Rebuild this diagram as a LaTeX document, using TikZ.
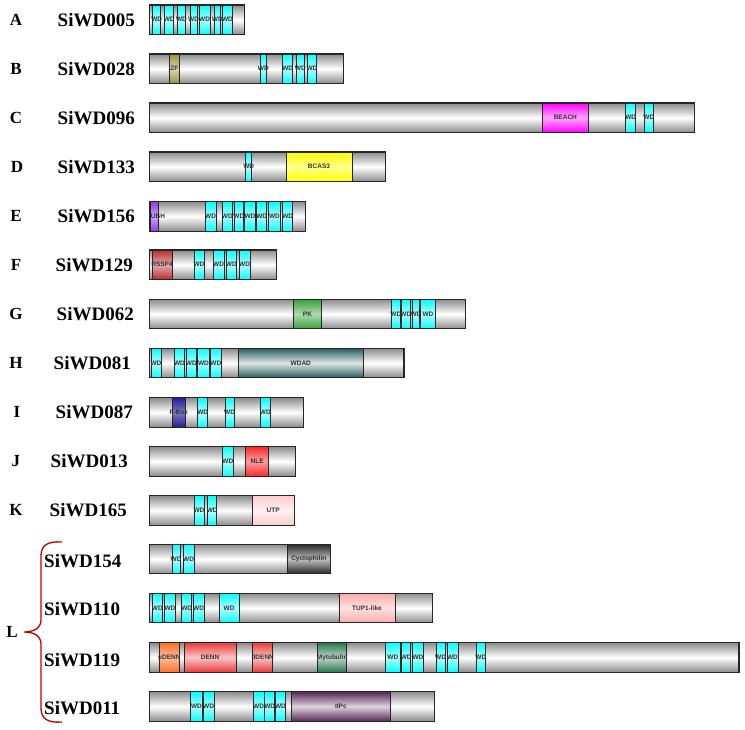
\documentclass[tikz,border=0pt]{standalone}
\usepackage{fontspec}
\setmainfont{Liberation Serif}
\setsansfont{Liberation Sans}
\usepackage{xcolor}

\definecolor{zfolive}{RGB}{150,150,60}
\definecolor{beachpink}{RGB}{255,0,255}
\definecolor{bcasyellow}{RGB}{255,255,0}
\definecolor{ubhpurple}{RGB}{140,60,230}
\definecolor{rsspred}{RGB}{185,45,45}
\definecolor{pkgreen}{RGB}{55,160,55}
\definecolor{wdadteal}{RGB}{40,90,90}
\definecolor{fboxblue}{RGB}{35,30,150}
\definecolor{nlered}{RGB}{250,40,40}
\definecolor{utppink}{RGB}{255,205,205}
\definecolor{cycdark}{RGB}{40,40,40}
\definecolor{tuppink}{RGB}{255,170,170}
\definecolor{udennorange}{RGB}{255,110,40}
\definecolor{dennred}{RGB}{235,60,60}
\definecolor{mytgreen}{RGB}{40,120,75}
\definecolor{iipcpurple}{RGB}{85,40,85}

\tikzset{
  dom/.style 2 args={draw=black!85, line width=0.8pt,
    top color=#1, bottom color=#1, middle color=#2},
  protein/.style={dom={black!45}{white}, line width=1.1pt},
  wdbox/.style={dom={cyan}{cyan!30!white}},
  lbl/.style={font=\sffamily\bfseries\fontsize{6.5}{6.5}\selectfont, text=black!80, inner sep=0pt},
  letter/.style={font=\bfseries\fontsize{17}{18}\selectfont, inner sep=0pt},
  gene/.style={font=\bfseries\fontsize{19}{20}\selectfont, inner sep=0pt, anchor=east}
}

\newcount\domno
% one protein backbone: end x, top y
\newcommand{\protbar}[2]{\draw[protein] (149.3,#2) rectangle (#1,#2+29.5);}
% one domain: style, start x, end x, top y, label
\newcommand{\dom}[5][wdbox]{%
  \global\advance\domno by 1
  \draw[#1] (#2,#4) rectangle (#3,#4+29.5);
  \node[lbl] (dom\the\domno) at ({(#2+#3)/2},#4+14.75) {#5};}

\begin{document}
\begin{tikzpicture}[x=1pt, y=-1pt]
  \useasboundingbox (0,0) rectangle (745,729);

  % row labels
  \node[letter] (lA) at (16,20) {A};   \node[gene] (gA) at (135,20) {SiWD005};
  \node[letter] (lB) at (16,69) {B};   \node[gene] (gB) at (135,69) {SiWD028};
  \node[letter] (lC) at (16,118) {C};  \node[gene] (gC) at (135,118) {SiWD096};
  \node[letter] (lD) at (17,167) {D};  \node[gene] (gD) at (135,167) {SiWD133};
  \node[letter] (lE) at (16,216) {E};  \node[gene] (gE) at (135,216) {SiWD156};
  \node[letter] (lF) at (16,265) {F};  \node[gene] (gF) at (133,265) {SiWD129};
  \node[letter] (lG) at (16,314) {G};  \node[gene] (gG) at (134,314) {SiWD062};
  \node[letter] (lH) at (16,363) {H};  \node[gene] (gH) at (131,363) {SiWD081};
  \node[letter] (lI) at (17,412) {I};  \node[gene] (gI) at (133,412) {SiWD087};
  \node[letter] (lJ) at (16,461) {J};  \node[gene] (gJ) at (128,461) {SiWD013};
  \node[letter] (lK) at (16,510) {K};  \node[gene] (gK) at (127,510) {SiWD165};
  \node[letter] (lL) at (12,632) {L};
  \node[gene, anchor=west] (gL1) at (44,561) {SiWD154};
  \node[gene, anchor=west] (gL2) at (44,609) {SiWD110};
  \node[gene, anchor=west] (gL3) at (44,660) {SiWD119};
  \node[gene, anchor=west] (gL4) at (44,708) {SiWD011};

  % brace for group L
  \draw[red!75!black, line width=1.3pt]
    (62,542) .. controls (48,541) and (41,545) .. (41,556) -- (41,620)
    .. controls (41,628) and (34,632) .. (24,632)
    .. controls (34,632) and (41,636) .. (41,644) -- (41,708)
    .. controls (41,719) and (48,723) .. (62,722);

  % A
  \protbar{244.7}{5}
  \foreach \a/\b in {152.7/160.7, 164.7/173.7, 177.3/185.7, 190/197.3, 199.3/210, 214/220.7, 222.7/232.3}
    \dom{\a}{\b}{5}{WD};
  % B
  \protbar{343.7}{54}
  \dom[dom={zfolive}{zfolive!40!white}]{169.3}{179.3}{54}{ZF}
  \foreach \a/\b in {260/266.7, 282.7/292.7, 296.7/304, 307.3/316.7}
    \dom{\a}{\b}{54}{WD};
  % C
  \protbar{694.7}{103}
  \dom[dom={beachpink}{beachpink!35!white}]{542.7}{588}{103}{BEACH}
  \foreach \a/\b in {625.7/635.7, 644.3/653.3}
    \dom{\a}{\b}{103}{WD};
  % D
  \protbar{385.7}{152}
  \dom{245.7}{251.7}{152}{WD}
  \dom[dom={bcasyellow}{bcasyellow!45!white}]{286}{352}{152}{BCAS3}
  % E
  \protbar{305.7}{201.7}
  \dom[dom={ubhpurple}{ubhpurple!45!white}]{150.7}{158}{201.7}{}
  \node[lbl] (ubh) at (158,216.4) {UBH};
  \foreach \a/\b in {205.3/216, 222.7/232, 234.3/243.3, 244.7/255.3, 256.7/266.7, 268.3/280.7, 282.7/292.7}
    \dom{\a}{\b}{201.7}{WD};
  % F
  \protbar{276.7}{250}
  \dom[dom={rsspred}{rsspred!40!white}]{152}{172}{250}{RSSP4}
  \foreach \a/\b in {194/204, 213.3/224, 226/236.7, 239.3/250}
    \dom{\a}{\b}{250}{WD};
  % G
  \protbar{465.3}{299.3}
  \dom[dom={pkgreen}{pkgreen!40!white}]{293.3}{321.7}{299.3}{PK}
  \foreach \a/\b in {391.7/400, 401/410.7, 412.7/419.3, 420.3/435.7}
    \dom{\a}{\b}{299.3}{WD};
  % H
  \protbar{404}{348.3}
  \foreach \a/\b in {151/161, 174.7/184.3, 186.7/196, 197.7/209.3, 210.7/221}
    \dom{\a}{\b}{348.3}{WD};
  \dom[dom={wdadteal}{wdadteal!15!white}]{238.3}{363.3}{348.3}{WDAD}
  % I
  \protbar{303.3}{397.7}
  \dom[dom={fboxblue}{fboxblue!60!white}]{172}{185.7}{397.7}{}
  \node[lbl] (fbox) at (178.8,412.4) {F-Box};
  \foreach \a/\b in {197.7/207.7, 225/234.3, 260.7/270}
    \dom{\a}{\b}{397.7}{WD};
  % J
  \protbar{295.7}{446.7}
  \dom{222.3}{233.3}{446.7}{WD}
  \dom[dom={nlered}{nlered!45!white}]{245.7}{268.7}{446.7}{NLE}
  % K
  \protbar{294}{495.7}
  \foreach \a/\b in {194/204, 207.7/216.7}
    \dom{\a}{\b}{495.7}{WD};
  \dom[dom={utppink}{utppink!30!white}]{252.3}{294}{495.7}{UTP}
  % L: SiWD154
  \protbar{330.3}{544.3}
  \foreach \a/\b in {172/180.3, 183.3/194}
    \dom{\a}{\b}{544.3}{WD};
  \dom[dom={cycdark}{black!25}]{287.3}{330.3}{544.3}{Cyclophilin}
  % L: SiWD110
  \protbar{432.3}{593.3}
  \foreach \a/\b in {152.7/162, 164.7/175.3, 181.7/191.7, 193.3/204, 219.3/239}
    \dom{\a}{\b}{593.3}{WD};
  \dom[dom={tuppink}{tuppink!35!white}]{339}{395}{593.3}{TUP1-like}
  % L: SiWD119
  \protbar{739}{642.7}
  \dom[dom={udennorange}{udennorange!45!white}]{159.3}{179.3}{642.7}{uDENN}
  \dom[dom={dennred}{dennred!30!white}]{184.3}{236}{642.7}{DENN}
  \dom[dom={dennred}{dennred!30!white}]{252.7}{272.7}{642.7}{dDENN}
  \dom[dom={mytgreen}{mytgreen!30!white}]{317.7}{346.7}{642.7}{Mytubulin}
  \foreach \a/\b in {385.7/400, 401.7/410.7, 412.7/423.3, 436/445.3, 447/458, 476.7/485}
    \dom{\a}{\b}{642.7}{WD};
  % L: SiWD011
  \protbar{434.7}{691.7}
  \foreach \a/\b in {190.7/202.3, 203.3/214, 253.3/264, 264.7/274.7, 275.7/285.3}
    \dom{\a}{\b}{691.7}{WD};
  \dom[dom={iipcpurple}{iipcpurple!20!white}]{291.7}{390}{691.7}{IIPc}
\end{tikzpicture}
\end{document}
